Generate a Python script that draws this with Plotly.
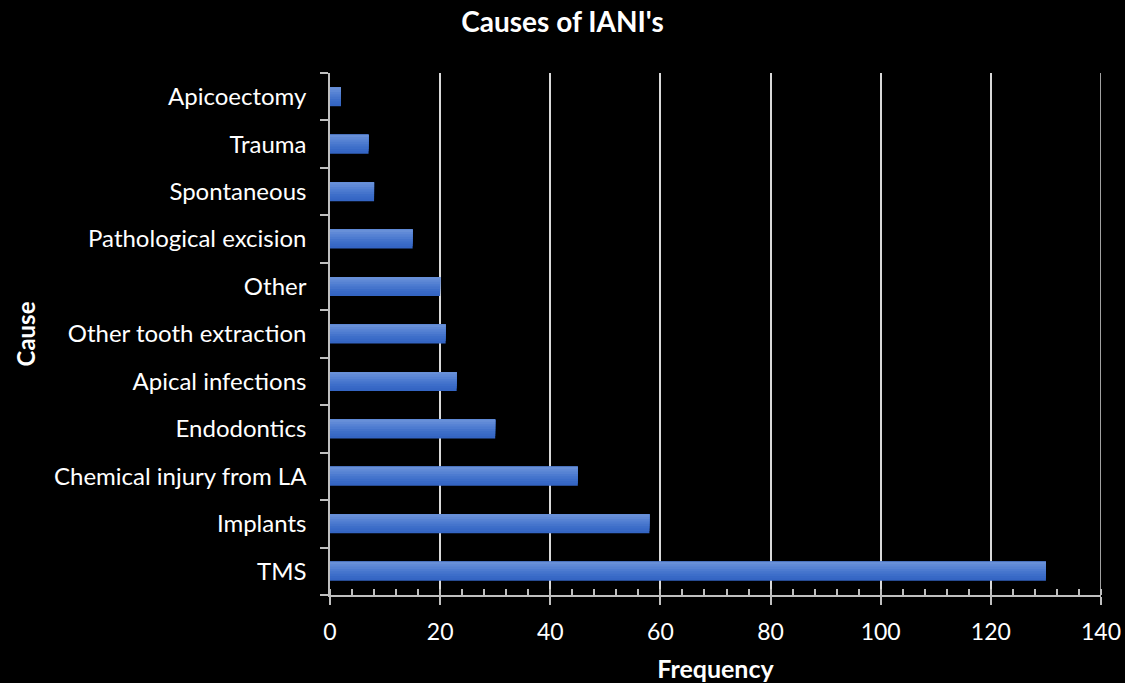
import plotly.graph_objects as go

causes = ["TMS", "Implants", "Chemical injury from LA", "Endodontics", "Apical infections",
          "Other tooth extraction", "Other", "Pathological excision", "Spontaneous",
          "Trauma", "Apicoectomy"]
frequency = [130, 58, 45, 30, 23, 21, 20, 15, 8, 7, 2]
x_max = 140

# vertical gradient: each layer starts at the bar top and reaches a little less far down,
# so overlapping layers blend from darker bottom to lighter top without seams
layer_colors = ["#3465c3", "#3869c6", "#3d6ec9", "#4574cc", "#4d7bd0", "#5682d3", "#5f89d6", "#6890d8"]
bar_width = 0.4
n = len(layer_colors)

fig = go.Figure()
for i, c in enumerate(layer_colors):
    w = bar_width * (n - i) / n
    fig.add_trace(go.Bar(
        x=frequency, y=causes, orientation="h",
        marker=dict(color=c, line=dict(width=0)),
        width=w,
        offset=bar_width / 2 - w,
        hoverinfo="x+y" if i == 0 else "skip", showlegend=False,
    ))

# gridline at the right end of the value axis
fig.add_shape(type="line", xref="x", yref="paper", x0=x_max, x1=x_max, y0=0, y1=1,
              line=dict(color="#d9d9d9", width=1.5), layer="below")

font_family = "Lato, Open Sans, sans-serif"
fig.update_layout(
    barmode="overlay",
    paper_bgcolor="black", plot_bgcolor="black",
    width=1125, height=683,
    margin=dict(l=330, r=24, t=73, b=88),
    font=dict(family=font_family, color="white", size=24),
    title=dict(text="<b>Causes of IANI's</b>", x=0.5, xanchor="center", y=0.968,
               yanchor="middle", font=dict(size=28, color="white")),
    xaxis=dict(
        range=[0, x_max], dtick=20, tick0=0, automargin=False,
        showgrid=True, gridcolor="#d9d9d9", gridwidth=1.5,
        showline=True, linecolor="#bfbfbf", linewidth=1.5,
        ticks="outside", ticklen=8, tickcolor="#bfbfbf", tickwidth=1.5,
        minor=dict(dtick=4, ticks="inside", ticklen=6, tickcolor="#bfbfbf", tickwidth=1.5, showgrid=False),
        zeroline=False,
        tickfont=dict(size=23, color="white"),
        ticklabelstandoff=8,
        title=dict(text="<b>Frequency</b>", font=dict(size=25, color="white"), standoff=20),
    ),
    yaxis=dict(
        categoryorder="array", categoryarray=causes, automargin=False,
        showline=True, linecolor="#bfbfbf", linewidth=1.5,
        ticks="outside", tickson="boundaries", ticklen=8, tickcolor="#bfbfbf", tickwidth=1.5,
        showgrid=False, zeroline=False,
        tickfont=dict(size=24, color="white"),
        ticklabelstandoff=17,
        title=dict(text="<b>Cause</b>", font=dict(size=24, color="white"), standoff=12),
    ),
)

fig.write_html("out.html")
